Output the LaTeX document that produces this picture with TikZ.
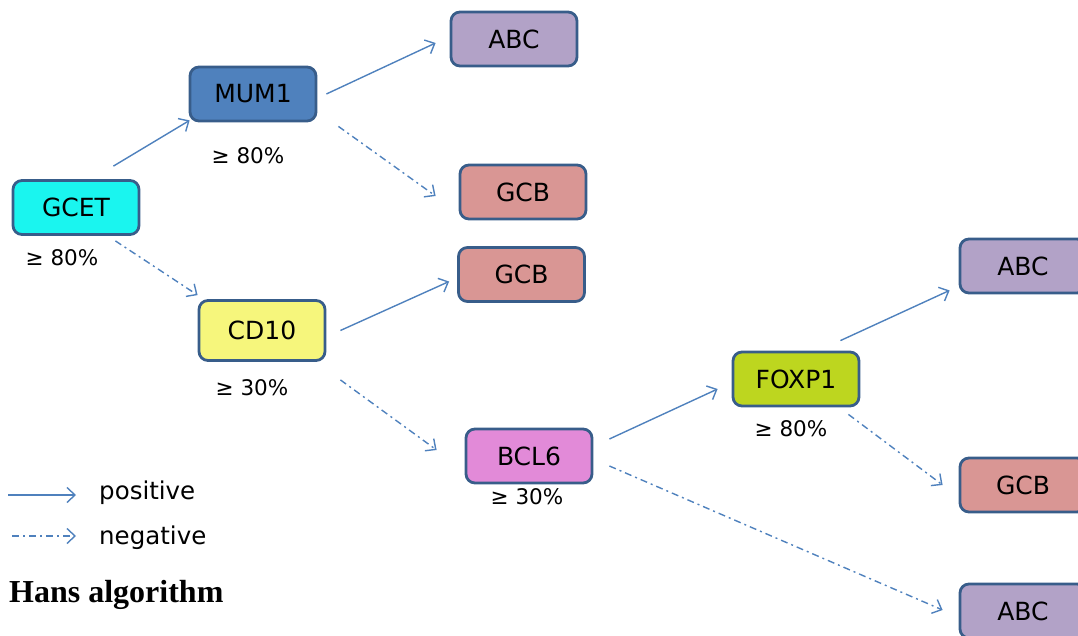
\documentclass[tikz,border=0pt]{standalone}
\usepackage{fontspec}
\setmainfont{DejaVu Sans}
\newfontfamily\titlefont{Liberation Serif}
\usetikzlibrary{arrows.meta,calc}

\definecolor{cgcet}{RGB}{26,245,239}
\definecolor{cmum}{RGB}{79,129,189}
\definecolor{cabc}{RGB}{178,162,199}
\definecolor{cgcb}{RGB}{217,150,148}
\definecolor{ccd}{RGB}{246,246,124}
\definecolor{cbcl}{RGB}{226,138,216}
\definecolor{cfox}{RGB}{189,214,31}
\definecolor{cborder}{RGB}{56,93,138}
\definecolor{carrow}{RGB}{79,129,189}

\tikzset{
  box/.style={draw=cborder, line width=2.8pt, rounded corners=9pt,
    minimum width=126pt, minimum height=54pt, inner sep=0pt,
    font=\fontsize{25}{29}\selectfont},
  pct/.style={font=\fontsize{21.5}{25}\selectfont, inner sep=0pt},
  legtext/.style={font=\fontsize{24.5}{28}\selectfont, inner sep=0pt, anchor=west},
  link/.style={draw=carrow, line width=1.4pt,
    -{Straight Barb[length=8pt,width=15pt,line width=1.4pt]}},
  posarrow/.style={link},
  negarrow/.style={link, dash pattern=on 7pt off 4pt on 2pt off 4pt},
}

\begin{document}
\begin{tikzpicture}[x=1pt,y=-1pt]
\useasboundingbox (0,0) rectangle (1078,636);
\clip (0,0) rectangle (1078,636);

% decision boxes
\node[box, fill=cgcet] (gcet) at (76,207.5) {GCET};
\node[box, fill=cmum]  (mum1) at (253,94) {MUM1};
\node[box, fill=cabc]  (abc1) at (514,39) {ABC};
\node[box, fill=cgcb]  (gcb1) at (523,192) {GCB};
\node[box, fill=cgcb]  (gcb2) at (521.5,274.5) {GCB};
\node[box, fill=ccd, minimum height=60pt] (cd10) at (262,330.5) {CD10};
\node[box, fill=cbcl]  (bcl6) at (529,456) {BCL6};
\node[box, fill=cfox]  (foxp1) at (796,379) {FOXP1};
\node[box, fill=cabc]  (abc2) at (1023,266) {ABC};
\node[box, fill=cgcb]  (gcb3) at (1023,485) {GCB};
\node[box, fill=cabc]  (abc3) at (1023,611) {ABC};

% cut-off thresholds
\node[pct] (t1) at (62,258) {≥ 80\%};
\node[pct] (t2) at (248,156) {≥ 80\%};
\node[pct] (t3) at (252,388) {≥ 30\%};
\node[pct] (t4) at (527,497) {≥ 30\%};
\node[pct] (t5) at (791,429) {≥ 80\%};

% connectors
\draw[posarrow] ($(gcet.north east)+(-27,-13)$) -- ($(mum1.south west)+(1,-2)$);
\draw[negarrow] ($(gcet.south east)+(-25,5)$) -- ($(cd10.north west)+(0,-4)$);
\draw[posarrow] ($(mum1.east)+(9,0)$) -- ($(abc1.west)+(-14,4)$);
\draw[negarrow] ($(mum1.south east)+(21,4)$) -- ($(gcb1.west)+(-23,4)$);
\draw[posarrow] ($(cd10.east)+(14,0)$) -- ($(gcb2.west)+(-8,7)$);
\draw[negarrow] ($(cd10.south east)+(14,18)$) -- ($(bcl6.west)+(-28,-6)$);
\draw[posarrow] ($(bcl6.east)+(16,-17)$) -- ($(foxp1.west)+(-14,10)$);
\draw[negarrow] ($(bcl6.east)+(16,10)$) -- ($(abc3.west)+(-16,-1)$);
\draw[posarrow] ($(foxp1.north east)+(-20,-10)$) -- ($(abc2.south west)+(-9,-4)$);
\draw[negarrow] ($(foxp1.south east)+(-12,7)$) -- ($(gcb3.west)+(-16,0)$);

% legend
\coordinate (lp1) at (8,495);
\coordinate (lp2) at (76,495);
\coordinate (ln1) at (12,536);
\coordinate (ln2) at (76,536);
\draw[posarrow] (lp1) -- (lp2);
\draw[negarrow] (ln1) -- (ln2);
\node[legtext] (lpos) at (99,493) {positive};
\node[legtext] (lneg) at (99,538) {negative};

% title
\node[anchor=base west, inner sep=0pt, font=\titlefont\bfseries\fontsize{32}{37}\selectfont] (title) at (9,602) {Hans algorithm};
\end{tikzpicture}
\end{document}
